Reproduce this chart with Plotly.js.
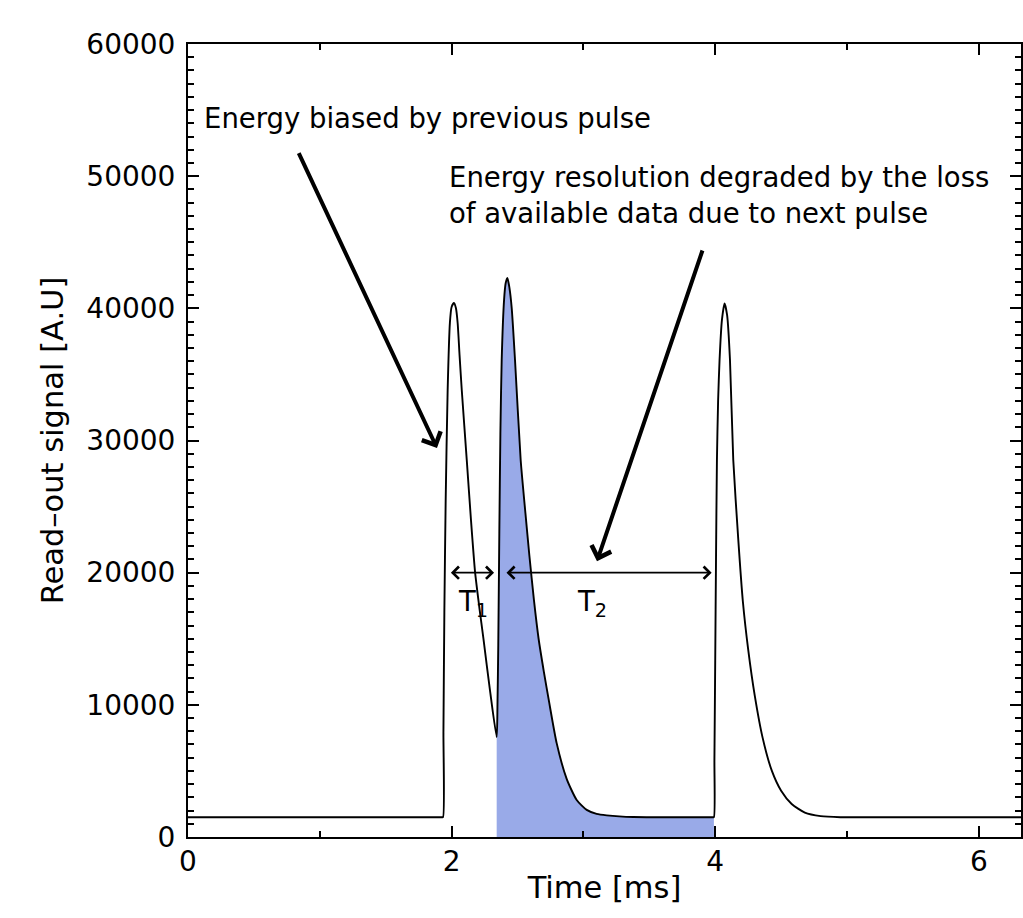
<!DOCTYPE html>
<html>
<head>
<meta charset="utf-8">
<script src="https://cdn.plot.ly/plotly-3.0.1.min.js"></script>
<style>html,body{margin:0;padding:0;background:#fff;}#chart{width:1023px;height:918px;}</style>
</head>
<body>
<div id="chart"></div>
<script>
// Time axis [ms]
const timeMs = [0, 0.5, 1.0, 1.5, 1.925, 1.935,
  1.938, 1.945, 1.955, 1.970, 1.987, 2.000, 2.018, 2.033, 2.046, 2.060, 2.077, 2.115, 2.147, 2.178, 2.210,
  2.241, 2.291, 2.342,
  2.348, 2.354, 2.362, 2.370, 2.380, 2.398, 2.410, 2.423, 2.438, 2.456, 2.481, 2.524, 2.560, 2.590, 2.625,
  2.660, 2.700, 2.740, 2.797, 2.873, 2.949, 3.025, 3.100, 3.177, 3.379, 3.600, 3.800, 3.980, 3.990,
  3.994, 4.000, 4.006, 4.013, 4.022, 4.033, 4.051, 4.071, 4.090, 4.112, 4.137, 4.175, 4.210, 4.250, 4.300,
  4.360, 4.430, 4.500, 4.580, 4.680, 4.800, 4.950, 5.300, 5.700, 6.000, 6.400];
// Read-out signal [A.U]
const signal = [1500, 1490, 1500, 1490, 1500, 1500,
  8000, 17000, 25500, 33800, 38900, 40100, 40400, 40000, 38870, 36500, 33820, 28520, 23980, 20040, 17400,
  15040, 11110, 7560,
  10000, 14500, 23000, 30500, 36090, 40640, 41900, 42300, 41600, 40010, 36090, 28520, 24500, 21300, 17900,
  15000, 12500, 10200, 7100, 4400, 2800, 2050, 1750, 1640, 1510, 1500, 1500, 1500, 1500,
  5810, 13380, 21000, 28520, 33000, 36090, 39120, 40370, 39500, 36090, 28520, 22500, 17800, 14200, 10700,
  7500, 5000, 3500, 2500, 1850, 1580, 1500, 1500, 1490, 1500, 1500];
// Shaded pulse window [ms]
const shadeStart = 2.342;
const shadeEnd = 3.990;
// Dead-time markers [ms] at signal level
const t1Span = [1.983, 2.322];
const t2Span = [2.405, 3.973];
const spanLevel = 20000;
const xTicks = [0, 2, 4, 6];
const yTicks = [0, 10000, 20000, 30000, 40000, 50000, 60000];

const shadeX = [], shadeY = [];
timeMs.forEach((t, i) => { if (t >= shadeStart && t <= shadeEnd) { shadeX.push(t); shadeY.push(signal[i]); } });

const FONT = 'DejaVu Sans';
const FS = 27.5;
const TICKFS = 28;
const TITLEFS = 30.5;

const traces = [
  {x: shadeX, y: shadeY, type: 'scatter', mode: 'lines', fill: 'tozeroy',
   fillcolor: 'rgb(153,170,232)', line: {width: 0, color: 'rgba(0,0,0,0)', shape: 'spline', smoothing: 0.6},
   hoverinfo: 'skip', showlegend: false},
  {x: timeMs, y: signal, type: 'scatter', mode: 'lines',
   line: {color: 'black', width: 1.9, shape: 'spline', smoothing: 0.6}, showlegend: false}
];

const annText = {family: FONT, size: FS, color: 'black'};
const annotations = [
  {x: 0.106, y: 54380, xref: 'x', yref: 'y', text: 'Energy biased by previous pulse',
   showarrow: false, xanchor: 'left', yanchor: 'middle', font: annText},
  {x: 1.965, y: 48590, xref: 'x', yref: 'y', text: 'Energy resolution degraded by the loss<br>of available data due to next pulse',
   showarrow: false, xanchor: 'left', yanchor: 'middle', align: 'left', font: annText},
  {x: 1.889, y: 29430, ax: 0.835, ay: 51850, xref: 'x', yref: 'y', axref: 'x', ayref: 'y', text: '',
   showarrow: true, arrowhead: 4, arrowsize: 1, arrowwidth: 4, arrowcolor: 'black', standoff: 0},
  {x: 3.103, y: 20870, ax: 3.907, ay: 44490, xref: 'x', yref: 'y', axref: 'x', ayref: 'y', text: '',
   showarrow: true, arrowhead: 4, arrowsize: 1, arrowwidth: 4, arrowcolor: 'black', standoff: 0},
  {x: t1Span[1], y: spanLevel, ax: t1Span[0], ay: spanLevel, xref: 'x', yref: 'y', axref: 'x', ayref: 'y', text: '',
   showarrow: true, arrowhead: 4, startarrowhead: 4, arrowside: 'end+start', arrowsize: 1.4, startarrowsize: 1.4,
   arrowwidth: 1.7, arrowcolor: 'black', standoff: 0, startstandoff: 0},
  {x: t2Span[1], y: spanLevel, ax: t2Span[0], ay: spanLevel, xref: 'x', yref: 'y', axref: 'x', ayref: 'y', text: '',
   showarrow: true, arrowhead: 4, startarrowhead: 4, arrowside: 'end+start', arrowsize: 1.4, startarrowsize: 1.4,
   arrowwidth: 1.7, arrowcolor: 'black', standoff: 0, startstandoff: 0},
  {x: 2.162, y: 17700, xref: 'x', yref: 'y', text: 'T<sub>1</sub>', showarrow: false, font: annText},
  {x: 3.065, y: 17700, xref: 'x', yref: 'y', text: 'T<sub>2</sub>', showarrow: false, font: annText}
];

const axisCommon = {
  showline: true, linecolor: 'black', linewidth: 2, mirror: 'ticks',
  ticks: 'inside', ticklen: 11, tickwidth: 2, tickcolor: 'black',
  showgrid: false, zeroline: false,
  tickfont: {family: FONT, size: TICKFS, color: 'black'}
};

const layout = {
  width: 1023, height: 918,
  margin: {l: 188, r: 2, t: 44, b: 81},
  paper_bgcolor: 'white', plot_bgcolor: 'white',
  font: {family: FONT, size: FS, color: 'black'},
  xaxis: Object.assign({}, axisCommon, {
    range: [0, 6.32], tickvals: xTicks, ticktext: xTicks.map(String),
    ticklabelstandoff: -2,
    minor: {dtick: 1, tick0: 0, ticks: 'inside', ticklen: 6, tickwidth: 2, tickcolor: 'black', showgrid: false},
    title: {text: 'Time [ms]', font: {family: FONT, size: TITLEFS, color: 'black'}, standoff: 0}
  }),
  yaxis: Object.assign({}, axisCommon, {
    range: [0, 60000], tickvals: yTicks, ticktext: yTicks.map(String),
    ticklabelstandoff: 5,
    minor: {dtick: 1000, tick0: 0, ticks: 'inside', ticklen: 6, tickwidth: 2, tickcolor: 'black', showgrid: false},
    title: {text: 'Read–out signal [A.U]', font: {family: FONT, size: TITLEFS, color: 'black'}, standoff: 14}
  }),
  annotations: annotations,
  showlegend: false
};

Plotly.newPlot('chart', traces, layout, {displayModeBar: false, staticPlot: true});
</script>
</body>
</html>
